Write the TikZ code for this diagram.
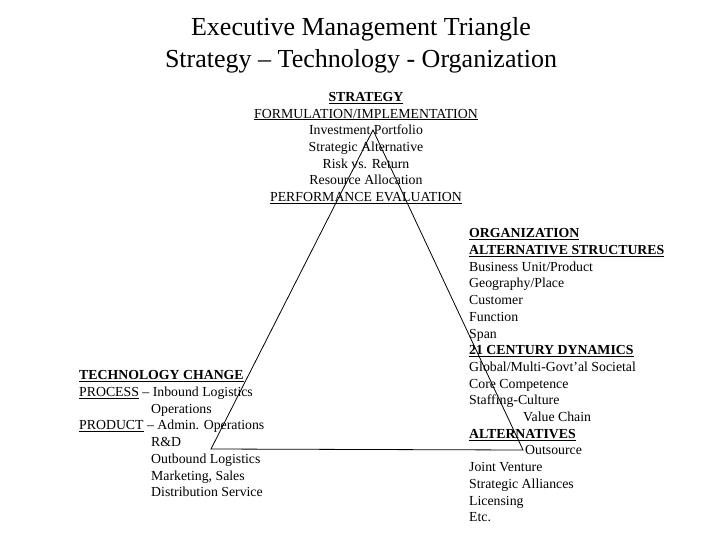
\documentclass[tikz,border=0pt]{standalone}
\usepackage{fontspec}
\setmainfont{Liberation Serif}
\begin{document}
\begin{tikzpicture}[x=1pt,y=-1pt,
  txt/.style={inner sep=0pt, font=\fontsize{13.8}{16.7}\selectfont},
  edge/.style={line width=0.8pt, line join=miter}]
\useasboundingbox (0,0) rectangle (720,540);
\node[inner sep=0pt, anchor=north, align=center, font=\fontsize{26}{32}\selectfont] (title) at (361,17)
  {Executive Management Triangle\\Strategy – Technology - Organization};
\coordinate (apex) at (373,130);
\coordinate (bl) at (211,449);
\coordinate (br) at (523,450);
\draw[edge] (apex) -- (bl) -- (br) -- cycle;
\node[txt, anchor=north, align=center] (strategy) at (366,92)
  {\textbf{\underline{STRATEGY}}\\
   \underline{FORMULATION/IMPLEMENTATION}\\
   Investment Portfolio\\
   Strategic Alternative\\
   Risk vs. Return\\
   Resource Allocation\\
   \underline{PERFORMANCE EVALUATION}};
\node[txt, anchor=north west, align=left] (technology) at (79,370.5)
  {\textbf{\underline{TECHNOLOGY CHANGE}}\\
   \underline{PROCESS} – Inbound Logistics\\
   \hspace*{72pt}Operations\\
   \underline{PRODUCT} – Admin. Operations\\
   \hspace*{72pt}R\&D\\
   \hspace*{72pt}Outbound Logistics\\
   \hspace*{72pt}Marketing, Sales\\
   \hspace*{72pt}Distribution Service};
\node[txt, anchor=north west, align=left] (organization) at (469,228.5)
  {\textbf{\underline{ORGANIZATION}}\\
   \textbf{\underline{ALTERNATIVE STRUCTURES}}\\
   Business Unit/Product\\
   Geography/Place\\
   Customer\\
   Function\\
   Span\\
   \textbf{\underline{21 CENTURY DYNAMICS}}\\
   Global/Multi-Govt’al Societal\\
   Core Competence\\
   Staffing-Culture\\
   \hspace*{54pt}Value Chain\\
   \textbf{\underline{ALTERNATIVES}}\\
   \hspace*{56pt}Outsource\\
   Joint Venture\\
   Strategic Alliances\\
   Licensing\\
   Etc.};
\end{tikzpicture}
\end{document}
